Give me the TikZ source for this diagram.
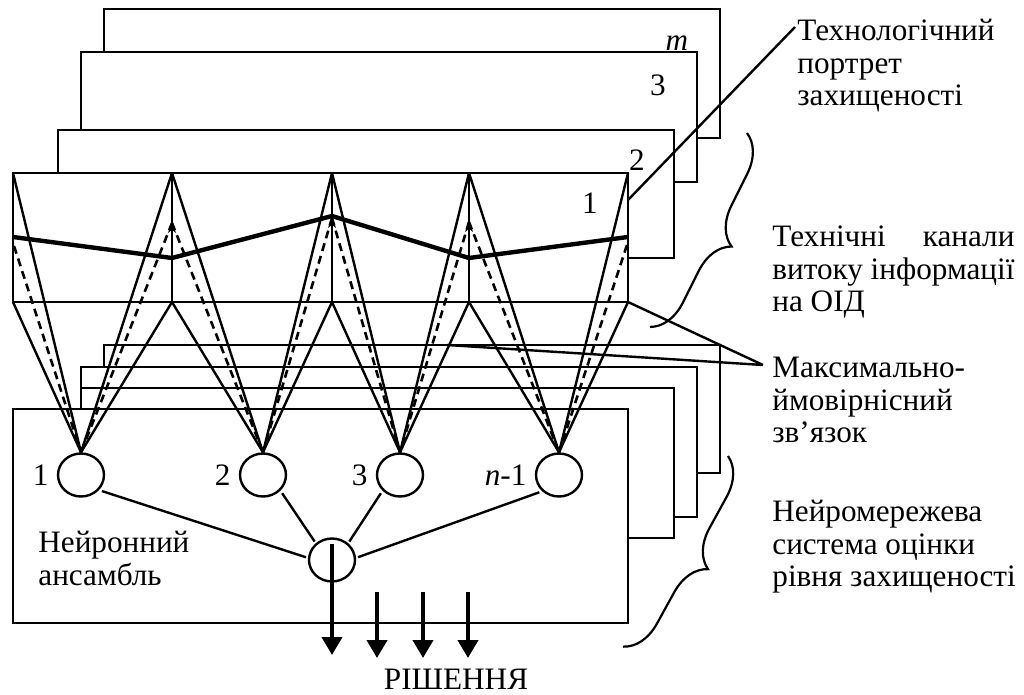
\documentclass[tikz,border=0pt]{standalone}
\usepackage{fontspec}
\setmainfont{Liberation Serif}
\usetikzlibrary{positioning,arrows.meta,shapes.geometric,decorations.pathreplacing}

\begin{document}
\begin{tikzpicture}[x=0.5pt, y=-0.5pt, >=Stealth,
  sheet/.style={draw=black, fill=white, line width=1.2pt},
  wire/.style={line width=1.2pt},
  hair/.style={line width=0.6pt},
  probe/.style={line width=1.3pt, dash pattern=on 4pt off 2.6pt},
  profile/.style={line width=2.2pt, line join=round},
  neuron/.style={ellipse, draw, line width=1.2pt, fill=white,
    minimum width=23pt, minimum height=21.5pt, inner sep=0pt},
  arrow/.style={-{Stealth[length=5pt,width=4pt]}, line width=1.2pt},
  outarrow/.style={-{Triangle[length=9pt,width=10pt]}, line width=2pt},
  txt/.style={font=\fontsize{15.6}{16.4}\selectfont, inner sep=0pt},
  note/.style={txt, align=left, anchor=base west},
  brace/.style={decorate, decoration={brace, amplitude=18.5pt}, line width=1.1pt}]

  \useasboundingbox (0,0) rectangle (1024,695);

  % portraits, back to front
  \draw[sheet] (104,9) rectangle (720,138);
  \draw[sheet] (81,52) rectangle (697,182);
  \draw[sheet] (58,130) rectangle (674,258);
  \draw[sheet] (13,173) rectangle (628,302);
  \node[txt] (sm) at (677,43) {\itshape m};
  \node[txt] (s3) at (658,85) {3};
  \node[txt] (s2) at (637,160) {2};
  \node[txt] (s1) at (590,203) {1};

  % relation sheets and the ensemble box
  \draw[sheet] (104,345) rectangle (720,473);
  \draw[sheet] (81,367) rectangle (697,517);
  \draw[sheet] (81,388) rectangle (674,538);
  \draw[sheet] (13,409) rectangle (628,623);

  \foreach \x [count=\i from 0] in {13,172,332,469,628}{
    \coordinate (t\i) at (\x,173);
    \coordinate (b\i) at (\x,302);
  }
  \foreach \x/\y [count=\i from 0] in {13/237,172/258,332/216,469/258,628/237}
    \coordinate (p\i) at (\x,\y);
  \foreach \x/\y [count=\i from 0] in {14/246,172/223,332/218,469/222,627/245}
    \coordinate (d\i) at (\x,\y);

  \node[neuron] (n1) at (81,475) {};
  \node[neuron] (n2) at (263,475) {};
  \node[neuron] (n3) at (400,475) {};
  \node[neuron] (n4) at (559,475) {};
  \node[neuron] (o) at (332,560) {};
  \node[txt, left=4pt of n1] (l1) {1};
  \node[txt, left=4pt of n2] (l2) {2};
  \node[txt, left=4pt of n3] (l3) {3};
  \node[txt, left=4pt of n4] (l4) {{\itshape n}-1};

  % channels
  \foreach \i in {1,...,4}{
    \pgfmathtruncatemacro\k{\i-1}
    \draw[wire] (t\k) -- (n\i.north) (t\i) -- (n\i.north);
    \draw[wire] (b\k) -- (n\i.north) (b\i) -- (n\i.north);
    \draw[probe] (d\k) -- (n\i.north) (d\i) -- (n\i.north);
  }
  \draw[wire] (b1) -- (t1);
  \draw[wire] (b2) -- (t2);
  \draw[hair] (b3) -- (t3);
  \draw[arrow] (b1) -- (d1);
  \draw[arrow] (b2) -- (d2);
  \draw[arrow] (b3) -- (d3);
  \draw[profile] (p0) -- (p1) -- (p2) -- (p3) -- (p4);

  % ensemble output
  \draw[wire, shorten <=1.5pt, shorten >=1pt] (n1.-40) -- (o.175);
  \draw[wire, shorten <=1.5pt, shorten >=1pt] (n2.-42) -- (o.134);
  \draw[wire, shorten <=1.5pt, shorten >=1pt] (n3.-138) -- (o.46);
  \draw[wire, shorten <=1.5pt, shorten >=1pt] (n4.-136) -- (o.5);
  \coordinate (r0) at (332,655);
  \draw[outarrow, shorten <=3.5pt] (o.north) -- (r0);
  \foreach \x [count=\i] in {377,423,468}{
    \coordinate (s\i) at (\x,592);
    \coordinate (r\i) at (\x,658);
    \draw[outarrow] (s\i) -- (r\i);
  }
  \node[txt, anchor=base] (decision) at (456,689) {РІШЕННЯ};
  \node[note] (ensemble) at (38,585) {Нейронний\\ансамбль};

  % side notes
  \node[note] (portrait) at (797,106) {Технологічний\\портрет\\захищеності};
  \node[note] (channels) at (772,312)
    {{\setbox0\hbox{витоку інформації}\hbox to \wd0{Технічні\hfill канали}}\\витоку інформації\\на ОІД};
  \node[note] (relation) at (772,443) {Максимально-\\ймовірнісний\\зв’язок};
  \node[note] (system) at (772,587) {Нейромережева\\система оцінки\\рівня захищеності};

  \coordinate (pin1) at (795,27);
  \coordinate (edge1) at (628,200);
  \draw[wire] (edge1) -- (pin1);
  \coordinate (pin2) at (763,365);
  \coordinate (edge2) at (447,345);
  \draw[wire] (b4) -- (pin2) (edge2) -- (pin2);

  \draw[brace] (747,133) -- (650,327);
  \draw[brace] (728,456) -- (623,647);
\end{tikzpicture}
\end{document}
